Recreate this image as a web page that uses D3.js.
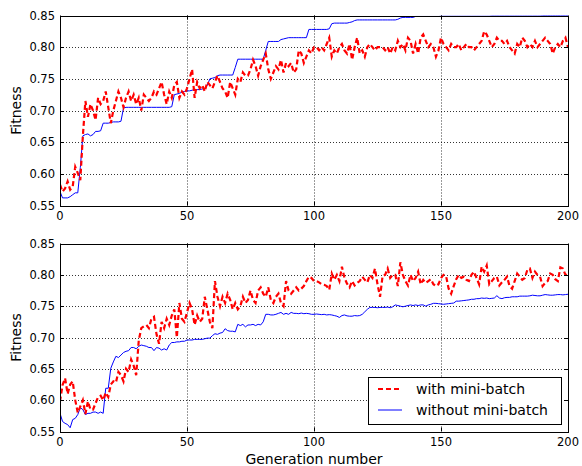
<!DOCTYPE html>
<html lang="en">
<head>
  <meta charset="UTF-8">
  <title>Fitness vs generation</title>
  <style>
    body { margin: 0; padding: 0; background: #fff; }
    svg { font-family: "DejaVu Sans", sans-serif; }
    .grid line { stroke: #000; stroke-width: 0.8; stroke-dasharray: 1,2; }
    .tick-label { font-size: 11.5px; fill: #000; }
    .axis-title { font-size: 14px; fill: #000; }
    .legend text { font-size: 14px; fill: #000; }
  </style>
</head>
<body>
  <div id="chart"></div>
  <script src="https://d3js.org/d3.v7.min.js"></script>
  <script>
    // generation numbers 0..200
    var xTicks = [0, 50, 100, 150, 200];
    var yTicks = [0.55, 0.60, 0.65, 0.70, 0.75, 0.80, 0.85];
    var seriesNames = ["with mini-batch", "without mini-batch"];

    // top panel, with mini-batch
    var topWith = [
      .583,.572,.577,.588,.575,.58,.611,.601,.59,.66,
      .715,.69,.71,.70,.685,.72,.71,.715,.73,.705,
      .68,.70,.715,.73,.72,.705,.72,.73,.715,.725,
      .71,.72,.70,.725,.72,.715,.72,.73,.725,.735,
      .745,.725,.71,.73,.72,.74,.745,.72,.73,.725,
      .735,.75,.765,.72,.745,.735,.74,.73,.745,.74,
      .735,.745,.755,.745,.735,.73,.72,.745,.735,.725,
      .75,.745,.76,.755,.755,.765,.78,.77,.755,.77,
      .78,.79,.765,.75,.76,.77,.765,.78,.76,.775,
      .77,.775,.76,.765,.795,.79,.775,.785,.795,.79,
      .80,.80,.795,.80,.795,.805,.815,.785,.795,.79,
      .80,.805,.795,.79,.805,.78,.80,.815,.79,.795,
      .785,.80,.805,.80,.795,.80,.80,.80,.795,.80,
      .79,.80,.795,.81,.80,.805,.795,.815,.81,.79,
      .805,.79,.815,.82,.81,.80,.805,.80,.785,.795,
      .815,.805,.80,.795,.805,.80,.80,.805,.795,.80,
      .805,.80,.80,.795,.80,.805,.81,.825,.82,.81,
      .80,.805,.815,.81,.81,.805,.81,.80,.795,.79,
      .805,.80,.815,.81,.80,.805,.80,.81,.80,.805,
      .81,.815,.81,.805,.79,.80,.805,.80,.81,.815,
      .80
    ];

    // top panel, without mini-batch
    var topWithout = [
      .572,.562,.562,.562,.564,.567,.570,.570,.61,.66,
      .662,.663,.660,.662,.667,.667,.668,.680,.680,.680,
      .681,.682,.682,.682,.683,.704,.705,.705,.705,.705,
      .705,.705,.705,.705,.705,.705,.705,.705,.705,.705,
      .705,.705,.705,.705,.706,.725,.726,.727,.729,.730,
      .731,.731,.732,.733,.733,.733,.734,.735,.740,.750,
      .751,.752,.755,.756,.756,.756,.756,.756,.756,.768,
      .781,.781,.781,.781,.781,.781,.781,.781,.781,.781,
      .781,.795,.809,.809,.809,.809,.809,.812,.813,.814,
      .815,.815,.815,.815,.815,.815,.815,.815,.828,.828,
      .828,.828,.828,.828,.828,.828,.829,.837,.838,.838,
      .838,.838,.838,.838,.839,.840,.842,.843,.843,.843,
      .843,.843,.843,.843,.843,.843,.843,.843,.843,.843,
      .843,.843,.843,.844,.846,.847,.847,.847,.847,.847,
      .8485,.8485,.8485,.8485,.8485,.8485,.8485,.8485,.8485,.8485,
      .849,.849,.849,.849,.849,.849,.849,.849,.849,.849,
      .849,.849,.849,.849,.849,.849,.849,.849,.849,.849,
      .8495,.8495,.8495,.8495,.8495,.8495,.8495,.8495,.8495,.8495,
      .8495,.8495,.8495,.8495,.8495,.8495,.8495,.8495,.8495,.8495,
      .85,.85,.85,.85,.85,.85,.85,.85,.85,.85,
      .85
    ];

    // bottom panel, with mini-batch
    var bottomWith = [
      .598,.624,.635,.61,.625,.63,.60,.58,.59,.60,
      .578,.598,.585,.585,.595,.605,.607,.60,.612,.605,
      .625,.63,.628,.645,.64,.63,.65,.645,.665,.655,
      .64,.695,.715,.718,.72,.715,.73,.733,.705,.69,
      .725,.715,.73,.72,.735,.745,.70,.755,.73,.725,
      .74,.755,.745,.72,.735,.725,.73,.765,.745,.725,
      .715,.79,.765,.75,.765,.755,.77,.76,.745,.755,
      .745,.75,.765,.755,.76,.775,.76,.755,.775,.78,
      .77,.765,.78,.76,.755,.765,.77,.755,.75,.79,
      .775,.77,.775,.78,.775,.778,.782,.79,.797,.795,
      .79,.79,.788,.785,.784,.782,.776,.802,.792,.80,
      .79,.813,.795,.786,.78,.79,.783,.787,.79,.797,
      .792,.788,.80,.795,.81,.785,.765,.798,.80,.81,
      .795,.80,.80,.782,.82,.80,.79,.783,.80,.79,
      .795,.805,.785,.792,.787,.79,.793,.785,.782,.785,
      .795,.80,.798,.778,.77,.782,.793,.80,.795,.797,
      .792,.79,.80,.805,.795,.785,.813,.805,.815,.785,
      .79,.795,.797,.783,.788,.792,.797,.782,.778,.79,
      .802,.797,.792,.795,.808,.81,.795,.805,.80,.797,
      .782,.787,.79,.802,.80,.793,.79,.812,.81,.80,
      .80
    ];

    // bottom panel, without mini-batch
    var bottomWithout = [
      .579,.566,.563,.561,.556,.569,.571,.577,.588,.585,
      .577,.579,.579,.581,.581,.579,.581,.579,.619,.619,
      .651,.661,.670,.668,.672,.676,.678,.679,.684,.684,
      .682,.686,.688,.687,.686,.684,.684,.679,.684,.683,
      .680,.682,.680,.688,.692,.692,.693,.693,.694,.694,
      .696,.696,.696,.697,.697,.697,.697,.698,.699,.699,
      .703,.706,.705,.707,.708,.714,.711,.710,.710,.709,
      .721,.719,.721,.717,.720,.720,.721,.719,.721,.720,
      .725,.737,.737,.736,.736,.737,.7385,.740,.737,.7385,
      .737,.740,.7385,.7385,.738,.739,.738,.7385,.738,.737,
      .737,.7375,.737,.7365,.737,.736,.7365,.736,.735,.734,
      .732,.735,.736,.7345,.734,.734,.735,.7345,.735,.737,
      .741,.745,.748,.748,.748,.7475,.748,.748,.748,.7485,
      .7475,.749,.752,.751,.750,.749,.750,.751,.752,.751,
      .752,.751,.752,.752,.750,.752,.753,.7545,.7545,.754,
      .7535,.753,.7535,.754,.7545,.755,.758,.758,.7585,.759,
      .7595,.760,.761,.761,.762,.762,.763,.7625,.763,.762,
      .7625,.763,.7667,.763,.762,.7635,.764,.764,.765,.765,
      .765,.766,.766,.766,.766,.7665,.7675,.767,.7665,.7665,
      .7675,.7685,.768,.7675,.7675,.768,.7685,.7685,.768,.7685,
      .769
    ];

    var width = 582, height = 466;
    var left = 60, right = 568;

    var svg = d3.select("#chart").append("svg")
      .attr("width", width)
      .attr("height", height);

    var x = d3.scaleLinear().domain([0, 200]).range([left, right]);

    function drawPanel(id, withData, withoutData, top, bottom, showLegend, showXTitle) {
      var y = d3.scaleLinear().domain([0.55, 0.85]).range([bottom, top]);
      var g = svg.append("g");

      g.append("clipPath").attr("id", id)
        .append("rect")
        .attr("x", left).attr("y", top)
        .attr("width", right - left).attr("height", bottom - top);

      // grid
      var grid = g.append("g").attr("class", "grid");
      grid.selectAll(".gx").data(xTicks.slice(1, -1)).enter().append("line")
        .attr("x1", function(d) { return Math.round(x(d)) + 0.5; })
        .attr("x2", function(d) { return Math.round(x(d)) + 0.5; })
        .attr("y1", top).attr("y2", bottom);
      grid.selectAll(".gy").data(yTicks.slice(1, -1)).enter().append("line")
        .attr("y1", function(d) { return Math.round(y(d)) + 0.5; })
        .attr("y2", function(d) { return Math.round(y(d)) + 0.5; })
        .attr("x1", left).attr("x2", right);

      // lines
      var line = d3.line()
        .x(function(d, i) { return x(i); })
        .y(function(d) { return y(d); });

      var plot = g.append("g").attr("clip-path", "url(#" + id + ")");
      plot.append("path").datum(withoutData)
        .attr("d", line)
        .attr("fill", "none")
        .attr("stroke", "#0000ff")
        .attr("stroke-width", 1);
      plot.append("path").datum(withData)
        .attr("d", line)
        .attr("fill", "none")
        .attr("stroke", "#ff0000")
        .attr("stroke-width", 2.2)
        .attr("stroke-dasharray", "5,3");

      // frame
      g.append("rect")
        .attr("x", left + 0.5).attr("y", Math.round(top) + 0.5)
        .attr("width", right - left).attr("height", Math.round(bottom) - Math.round(top))
        .attr("fill", "none").attr("stroke", "#000").attr("stroke-width", 1);

      // ticks inward on all four sides
      var ticks = g.append("g").attr("stroke", "#000").attr("stroke-width", 1);
      xTicks.forEach(function(t) {
        var px = Math.round(x(t)) + 0.5;
        ticks.append("line").attr("x1", px).attr("x2", px).attr("y1", bottom).attr("y2", bottom - 4);
        ticks.append("line").attr("x1", px).attr("x2", px).attr("y1", top).attr("y2", top + 4);
      });
      yTicks.forEach(function(t) {
        var py = Math.round(y(t)) + 0.5;
        ticks.append("line").attr("y1", py).attr("y2", py).attr("x1", left).attr("x2", left + 4);
        ticks.append("line").attr("y1", py).attr("y2", py).attr("x1", right).attr("x2", right - 4);
      });

      g.selectAll(".xl").data(xTicks).enter().append("text")
        .attr("class", "tick-label")
        .attr("x", function(d) { return x(d); })
        .attr("y", bottom + 14)
        .attr("text-anchor", "middle")
        .text(function(d) { return d; });

      g.selectAll(".yl").data(yTicks).enter().append("text")
        .attr("class", "tick-label")
        .attr("x", left - 5)
        .attr("y", function(d) { return y(d); })
        .attr("dy", "0.36em")
        .attr("text-anchor", "end")
        .text(d3.format(".2f"));

      g.append("text")
        .attr("class", "axis-title")
        .attr("transform", "translate(21," + (top + bottom) / 2 + ")rotate(-90)")
        .attr("text-anchor", "middle")
        .text("Fitness");

      if (showXTitle) {
        g.append("text")
          .attr("class", "axis-title")
          .attr("x", (left + right) / 2)
          .attr("y", bottom + 32)
          .attr("text-anchor", "middle")
          .text("Generation number");
      }

      if (showLegend) {
        var lg = g.append("g").attr("class", "legend");
        lg.append("rect")
          .attr("x", 368.5).attr("y", 377.5)
          .attr("width", 193).attr("height", 47)
          .attr("fill", "#fff").attr("stroke", "#000").attr("stroke-width", 1);
        var rows = [
          { name: seriesNames[0], color: "#ff0000", w: 2.2, dash: "5,3", cy: 389 },
          { name: seriesNames[1], color: "#0000ff", w: 1, dash: null, cy: 410 }
        ];
        rows.forEach(function(r) {
          lg.append("line")
            .attr("x1", 378).attr("x2", 402)
            .attr("y1", r.cy).attr("y2", r.cy)
            .attr("stroke", r.color).attr("stroke-width", r.w)
            .attr("stroke-dasharray", r.dash);
          lg.append("text")
            .attr("x", 416).attr("y", r.cy)
            .attr("dy", "0.36em")
            .text(r.name);
        });
      }
    }

    drawPanel("clipTop", topWith, topWithout, 15.5, 205.5, false, false);
    drawPanel("clipBottom", bottomWith, bottomWithout, 243.5, 431.5, true, true);
  </script>
</body>
</html>
